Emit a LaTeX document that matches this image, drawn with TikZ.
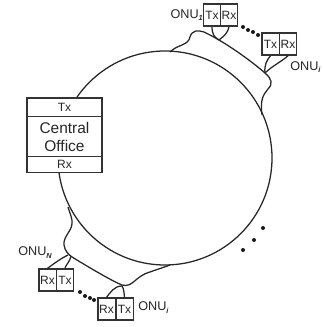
\documentclass[tikz,border=0pt]{standalone}
\usepackage{fontspec}
\setmainfont{Liberation Sans}
\newcommand{\subbi}[1]{\raisebox{-1.8pt}{\fontsize{5.5pt}{5.5pt}\selectfont\bfseries\itshape #1}}
\begin{document}
\begin{tikzpicture}[x=0.75pt,y=-0.75pt,
  ln/.style={draw=black!85,line width=0.95pt},
  bx/.style={draw=black!80,line width=1pt,fill=white,inner sep=0pt,minimum height=16.5pt,minimum width=13pt,font=\fontsize{9pt}{10pt}\selectfont,text=black!85},
  cell/.style={draw=black!80,line width=1pt,fill=white,inner sep=0pt,outer sep=0pt,minimum width=56.25pt,font=\fontsize{9pt}{10pt}\selectfont,text=black!85},
  lab/.style={inner sep=0pt,font=\fontsize{9.5pt}{10pt}\selectfont,text=black!85},
  dot/.style={circle,fill=black!90,inner sep=0pt,minimum size=3pt}]
\useasboundingbox (0,0) rectangle (323,327);
% ring
\draw[ln] (165,158) circle[radius=80.25pt];
\coordinate (a1) at (170,52);
\coordinate (a2) at (262,115);
\coordinate (b1) at (68,207);
\coordinate (b2) at (170,265);
\draw[ln] (a1) .. controls (178,44) and (188,46) .. (190,37) .. controls (192,30) and (198,30) .. (204,32) .. controls (225,42) and (250,60) .. (265,73) .. controls (272,79) and (273,84) .. (268,89) .. controls (263,95) and (260,100) .. (a2);
\draw[ln] (b1) .. controls (70,214) and (73,220) .. (72,224) .. controls (71,232) and (63,237) .. (64,245) .. controls (65,251) and (68,254) .. (72,257) .. controls (90,268) and (112,281) .. (122,285) .. controls (133,288) and (135,276) .. (150,272) .. controls (158,269) and (165,267) .. (b2);
% ONU boxes
\node[bx] (t1) at (212,15) {Tx};
\node[bx] (r1) at (229,15) {Rx};
\node[bx] (ti) at (270.5,44) {Tx};
\node[bx] (ri) at (288,44) {Rx};
\node[bx] (rn) at (47.5,280) {Rx};
\node[bx] (tn) at (65,280) {Tx};
\node[bx] (rj) at (106.5,309) {Rx};
\node[bx] (tj) at (124.5,309) {Tx};
% stubs
\coordinate (s1) at (219,40);
\coordinate (s2) at (265,73);
\coordinate (s3) at (68,255);
\coordinate (s4) at (122,286);
\draw[ln] (t1.south) .. controls (212,34) and (214,37) .. (s1);
\draw[ln] (r1.south) .. controls (228,33) and (224,36) .. (s1);
\draw[ln] (ti.south) .. controls (267,60) and (264,65) .. (s2);
\draw[ln] (ri.south) .. controls (284,60) and (272,66) .. (s2);
\draw[ln] (rn.north) .. controls (52,265) and (60,259) .. (s3);
\draw[ln] (tn.north) .. controls (66,264) and (70,262) .. (71,256);
\draw[ln] (rj.north) .. controls (110,293) and (114,286) .. (s4);
\draw[ln] (tj.north) .. controls (124,293) and (124,289) .. (s4);
% central office
\node[cell,minimum height=14pt,anchor=north] (tx) at (64.5,98) {Tx};
\node[cell,minimum height=30pt,align=center,anchor=north,font=\fontsize{11.6pt}{13.5pt}\selectfont] (co) at (tx.south) {Central\\Office};
\node[cell,minimum height=12pt,anchor=north] (rx) at (co.south) {Rx};
% labels
\node[lab,anchor=east] (l1) at (203,15) {ONU\subbi{1}};
\node[lab,anchor=west] (l2) at (290,67) {ONU\subbi{i}};
\node[lab,anchor=east] (l3) at (52,252.5) {ONU\subbi{N}};
\node[lab,anchor=west] (l4) at (138,307.5) {ONU\subbi{i}};
% dots
\foreach \n/\x/\y in {d1/243/27,d2/248/30,d3/253/32,d4/258/35,e1/80/292,e2/85/296,e3/90/298,e4/94/300,f1/263/228,f2/254/240,f3/243/250}{\node[dot] (\n) at (\x,\y) {};}
\end{tikzpicture}
\end{document}
